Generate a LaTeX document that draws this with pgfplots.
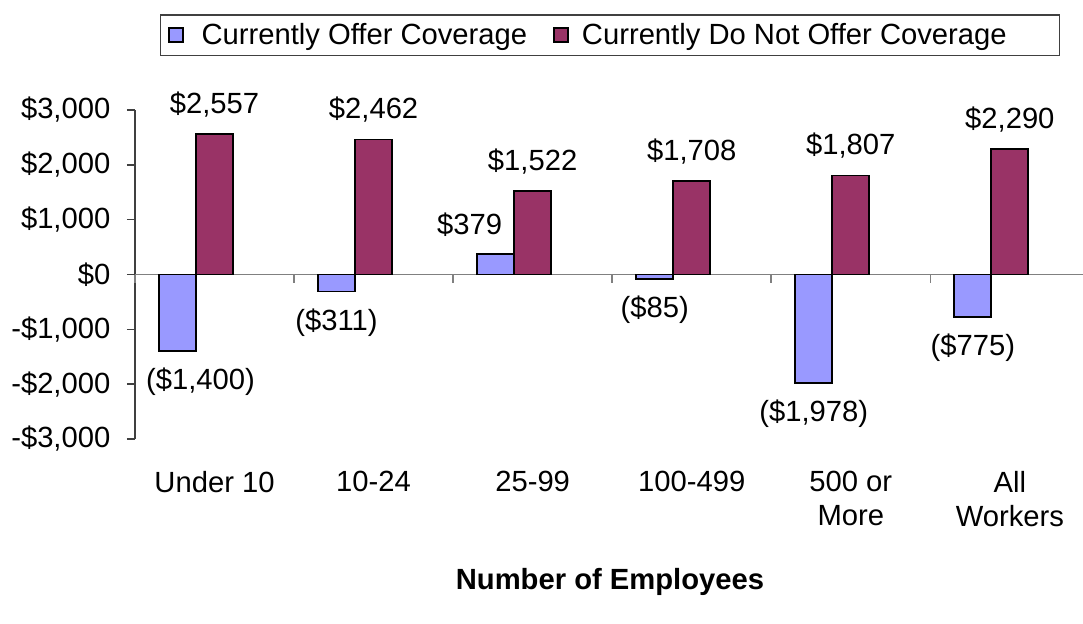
\documentclass[border=0pt]{standalone}
\usepackage{fontspec}
\setmainfont{Liberation Sans}
\usepackage{pgfplots}
\usepackage{pgfplotstable}
\pgfplotsset{compat=1.18}
\definecolor{offer}{HTML}{9999FF}
\definecolor{nooffer}{HTML}{993366}
\definecolor{axgray}{HTML}{808080}
\newcommand{\chartfont}{\fontsize{14.6}{17}\selectfont}

\pgfplotstableread{
x y lab dx ay
0 -1400 {(\$1,400)} 11.5 -1
1 -311 {(\$311)} 0 -1
2 379 {\$379} -13 1
3 -85 {(\$85)} 0 -1
4 -1978 {(\$1,978)} 0 -1
5 -775 {(\$775)} 0 -1
}\offertab

\pgfplotstableread{
x y lab dx ay
0 2557 {\$2,557} 0 1
1 2462 {\$2,462} 0 1
2 1522 {\$1,522} 0 1
3 1708 {\$1,708} 0 1
4 1807 {\$1,807} 0 1
5 2290 {\$2,290} 0 1
}\noffertab

\begin{document}
\begin{tikzpicture}
\begin{axis}[
  scale only axis,
  width=474pt, height=164.5pt,
  xmin=-0.5, xmax=5.46,
  ymin=-3000, ymax=3000,
  clip=false,
  ybar,
  bar width=0.2327,
  axis y line*=left,
  axis x line*=bottom,
  x axis line style={draw=none},
  y axis line style={black!75, line width=0.75pt},
  ytick={-3000,-2000,-1000,0,1000,2000,3000},
  yticklabels={{-\$3,000},{-\$2,000},{-\$1,000},{\$0},{\$1,000},{\$2,000},{\$3,000}},
  ytick style={black!75, line width=0.75pt},
  major tick length=4pt,
  tick align=outside,
  yticklabel style={font=\chartfont, xshift=-4.8pt},
  xtick={0,1,2,3,4,5},
  xticklabels={{Under 10},{10-24},{25-99},{100-499},{500 or\\More},{All\\Workers}},
  xtick style={draw=none},
  xticklabel style={font=\chartfont, align=center, anchor=north, inner sep=0pt, yshift=-12pt},
  legend style={
    at={(0.02637,1.2918)}, anchor=north west,
    draw=black!75, line width=0.75pt,
    inner xsep=3.5pt, inner ysep=4.2pt,
    font=\chartfont,
    nodes={inner sep=0pt},
    column sep=0pt,
  },
  legend columns=2,
  legend image code/.code={\draw[#1, line width=0.9pt] (0pt,-3.5pt) rectangle (7pt,3.5pt);},
  nodes near coords,
  point meta=explicit symbolic,
  every node near coord/.append style={font=\chartfont, inner xsep=0pt, inner ysep=8pt, xshift=\dx pt, anchor=\ifdim\ay pt<0pt north\else south\fi},
  visualization depends on={\thisrow{dx} \as \dx},
  visualization depends on={\thisrow{ay} \as \ay},
]
\draw[axgray, line width=0.75pt] (axis cs:-0.5,0) -- (axis cs:5.46,0);
\pgfplotsinvokeforeach{-0.5,0.5,1.5,2.5,3.5,4.5}{
  \draw[axgray, line width=0.75pt] (axis cs:#1,0) -- ([yshift=-4pt]axis cs:#1,0);
}
\addplot[fill=offer, draw=black, line width=0.9pt, bar shift=-0.2327]
  table[x=x, y=y, meta=lab] {\offertab};
\addlegendentry{\hspace*{9pt}Currently Offer Coverage\hspace*{13pt}}
\addplot[fill=nooffer, draw=black, line width=0.9pt, bar shift=0]
  table[x=x, y=y, meta=lab] {\noffertab};
\addlegendentry{\hspace*{6.5pt}Currently Do Not Offer Coverage\hspace*{23pt}}
\end{axis}
\node[anchor=base, font=\chartfont\bfseries] at (237.5pt,-75pt) {Number of Employees};
\pgfresetboundingbox
\path[use as bounding box] (-67.5pt,-92pt) rectangle (474pt,219.5pt);
\end{tikzpicture}
\end{document}
